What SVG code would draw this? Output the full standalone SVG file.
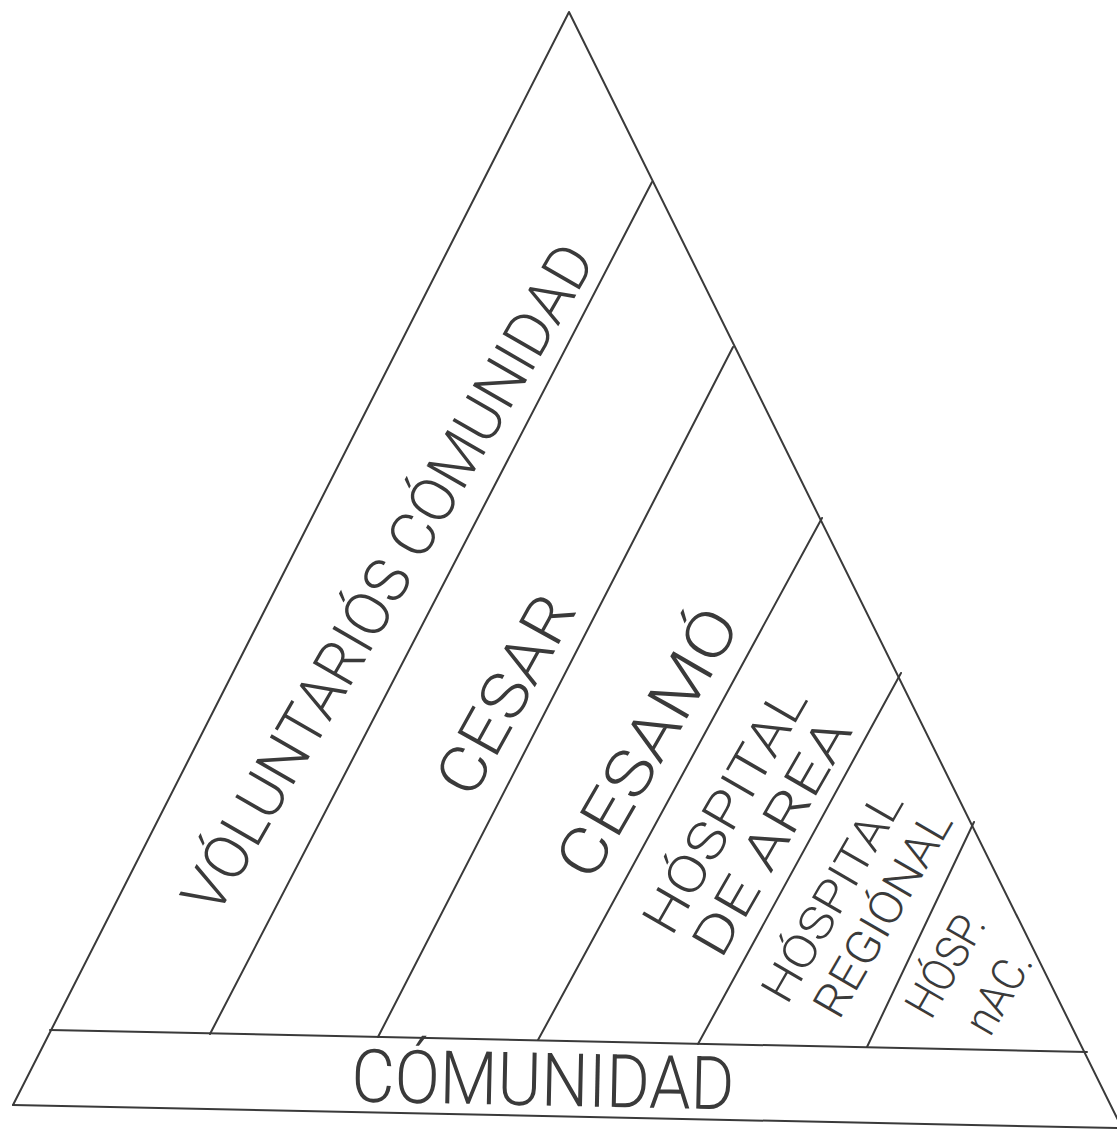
<svg xmlns="http://www.w3.org/2000/svg" width="1117" height="1130" viewBox="0 0 1117 1130">
<style>
.ln{fill:none;stroke:#3a3a3a;stroke-width:2;stroke-linecap:round;stroke-linejoin:round}
.lb{font-family:Roboto,"Liberation Sans","DejaVu Sans",sans-serif;font-weight:300;fill:#3a3a3a;text-anchor:middle;dominant-baseline:central}
.st{font-family:Roboto,"Liberation Sans","DejaVu Sans",sans-serif;font-weight:300;fill:#3a3a3a;text-anchor:start}
</style>
<rect width="1117" height="1130" fill="#ffffff"/>
<g id="frame">
<path class="ln" d="M13,1105 L569,12 L1120,1124"/>
<path class="ln" d="M50,1030 L1087,1052"/>
<path class="ln" d="M13,1105 L1117,1128"/>
</g>
<g id="connectors">
<line class="ln" x1="652" y1="182" x2="210" y2="1034"/>
<line class="ln" x1="733" y1="347" x2="378" y2="1037"/>
<line class="ln" x1="822" y1="518" x2="538" y2="1040"/>
<line class="ln" x1="901" y1="673" x2="698" y2="1044"/>
<line class="ln" x1="974" y1="822" x2="867" y2="1047"/>
</g>
<g id="voluntarios">
<text class="lb" font-size="62" transform="translate(388,578) rotate(-60)" textLength="760" lengthAdjust="spacingAndGlyphs">VÓLUNTARIÓS CÓMUNIDAD</text>
</g>
<g id="cesar">
<text class="lb" font-size="64" transform="translate(506,695) rotate(-61)" textLength="218" lengthAdjust="spacingAndGlyphs">CESAR</text>
</g>
<g id="cesamo">
<text class="lb" font-size="64" transform="translate(648,743) rotate(-60)" textLength="300" lengthAdjust="spacingAndGlyphs">CESAMÓ</text>
</g>
<g id="hospital-area">
<text class="lb" font-size="52" transform="translate(725,810) rotate(-60)" textLength="275" lengthAdjust="spacingAndGlyphs">HÓSPITAL</text>
<text class="lb" font-size="52" transform="translate(772,837) rotate(-60)" textLength="265" lengthAdjust="spacingAndGlyphs">DE AREA</text>
</g>
<g id="hospital-regional">
<text class="st" font-size="46" transform="translate(787,1006) rotate(-60)" textLength="235" lengthAdjust="spacingAndGlyphs">HÓSPITAL</text>
<text class="st" font-size="46" transform="translate(839,1021) rotate(-60)" textLength="230" lengthAdjust="spacingAndGlyphs">REGIÓNAL</text>
</g>
<g id="hosp-nac">
<text class="st" font-size="46" transform="translate(931,1021) rotate(-60)" textLength="112" lengthAdjust="spacingAndGlyphs">HÓSP.</text>
<text class="st" font-size="46" transform="translate(990,1038) rotate(-60)" textLength="88" lengthAdjust="spacingAndGlyphs">nAC.</text>
</g>
<g id="comunidad">
<text class="lb" font-size="74" transform="translate(543,1080) rotate(1.2)" textLength="383" lengthAdjust="spacingAndGlyphs">CÓMUNIDAD</text>
</g>
</svg>
